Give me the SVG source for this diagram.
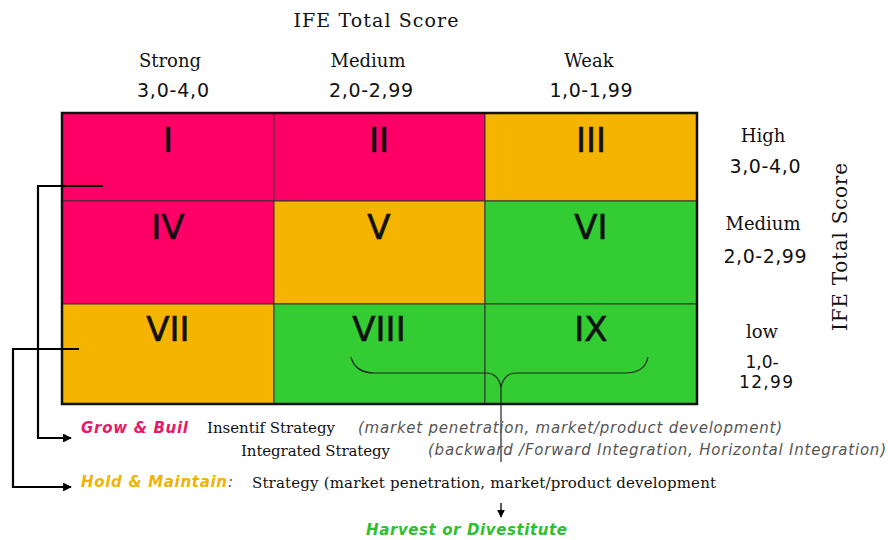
<svg xmlns="http://www.w3.org/2000/svg" width="888" height="540" viewBox="0 0 888 540">
  <style>
    .serif { font-family: "DejaVu Serif", "Liberation Serif", serif; fill: #111; }
    .sans { font-family: "DejaVu Sans", "Liberation Sans", sans-serif; fill: #111; }
    .roman { font-family: "DejaVu Sans", "Liberation Sans", sans-serif; font-size: 34px; fill: #111; text-anchor: middle; stroke: #111; stroke-width: 0.6; }
    .pink { fill: #FF0066; }
    .orange { fill: #F5B400; }
    .green { fill: #33CC33; }
    .cell { stroke: #333; stroke-width: 1; }
    .line { fill: none; stroke: #000; stroke-width: 2.2; }
    .thin { fill: none; stroke: #222; stroke-width: 1.2; }
    .note { font-family: "DejaVu Sans", "Liberation Sans", sans-serif; font-style: italic; fill: #555; font-size: 15px; }
    .tag { font-family: "DejaVu Sans", "Liberation Sans", sans-serif; font-style: italic; font-weight: bold; font-size: 15px; }
  </style>
  <defs>
    <marker id="arrow" viewBox="0 0 10 10" refX="9" refY="5" markerWidth="4" markerHeight="4" orient="auto" markerUnits="strokeWidth">
      <path d="M0,0 L10,5 L0,10 z" fill="#000"/>
    </marker>
    <marker id="arrowSmall" viewBox="0 0 10 10" refX="9" refY="5" markerWidth="6" markerHeight="6" orient="auto" markerUnits="strokeWidth">
      <path d="M0,0 L10,5 L0,10 z" fill="#000"/>
    </marker>
  </defs>

  <rect width="888" height="540" fill="#fff"/>

  <!-- Axis headings -->
  <g id="axis-top">
    <text class="serif" x="376" y="27" font-size="19" text-anchor="middle" textLength="165">IFE Total Score</text>
    <text class="serif" x="170" y="67" font-size="18" text-anchor="middle">Strong</text>
    <text class="serif" x="368" y="67" font-size="18" text-anchor="middle">Medium</text>
    <text class="serif" x="589" y="67" font-size="18" text-anchor="middle">Weak</text>
    <text class="sans" x="173" y="97" font-size="19" text-anchor="middle" textLength="72">3,0-4,0</text>
    <text class="sans" x="371" y="97" font-size="19" text-anchor="middle" textLength="84">2,0-2,99</text>
    <text class="sans" x="591" y="97" font-size="19" text-anchor="middle" textLength="83">1,0-1,99</text>
  </g>

  <g id="axis-right">
    <text class="serif" x="763" y="142" font-size="18" text-anchor="middle">High</text>
    <text class="sans" x="765" y="173" font-size="19" text-anchor="middle" textLength="71">3,0-4,0</text>
    <text class="serif" x="763" y="230" font-size="18" text-anchor="middle">Medium</text>
    <text class="sans" x="765" y="263" font-size="19" text-anchor="middle" textLength="83">2,0-2,99</text>
    <text class="serif" x="762" y="338" font-size="18" text-anchor="middle">low</text>
    <text class="sans" x="762" y="368" font-size="17" text-anchor="middle">1,0-</text>
    <text class="sans" x="766" y="388" font-size="17" text-anchor="middle" textLength="54">12,99</text>
    <text class="serif" font-size="20" text-anchor="middle" textLength="168" transform="translate(847 247) rotate(-90)">IFE Total Score</text>
  </g>

  <!-- Matrix cells -->
  <g id="cell-I"><rect class="cell pink" x="62" y="113" width="212" height="88"/><text class="roman" x="168" y="152">I</text></g>
  <g id="cell-II"><rect class="cell pink" x="274" y="113" width="211" height="88"/><text class="roman" x="379" y="152">II</text></g>
  <g id="cell-III"><rect class="cell orange" x="485" y="113" width="212" height="88"/><text class="roman" x="591" y="152">III</text></g>
  <g id="cell-IV"><rect class="cell pink" x="62" y="201" width="212" height="103"/><text class="roman" x="168" y="239">IV</text></g>
  <g id="cell-V"><rect class="cell orange" x="274" y="201" width="211" height="103"/><text class="roman" x="379" y="239">V</text></g>
  <g id="cell-VI"><rect class="cell green" x="485" y="201" width="212" height="103"/><text class="roman" x="591" y="239">VI</text></g>
  <g id="cell-VII"><rect class="cell orange" x="62" y="304" width="212" height="100"/><text class="roman" x="168" y="341">VII</text></g>
  <g id="cell-VIII"><rect class="cell green" x="274" y="304" width="211" height="100"/><text class="roman" x="379" y="341">VIII</text></g>
  <g id="cell-IX"><rect class="cell green" x="485" y="304" width="212" height="100"/><text class="roman" x="591" y="341">IX</text></g>
  <rect x="62" y="113" width="635" height="291" fill="none" stroke="#111" stroke-width="2.5"/>

  <!-- Connectors -->
  <g id="connectors">
    <path class="line" d="M103,186 H38 V438 H71" marker-end="url(#arrow)"/>
    <path class="line" d="M79,349 H13 V487 H71" marker-end="url(#arrow)"/>
    <path class="thin" d="M351,357 Q355,373 375,373 H486 Q498,373 501,387 Q504,373 516,373 H625 Q645,373 648,357"/>
    <path class="thin" d="M501,387 V462"/>
    <path fill="none" stroke="#000" stroke-width="1.3" d="M501,503 V517" marker-end="url(#arrowSmall)"/>
  </g>

  <!-- Strategy legend -->
  <g id="legend-grow">
    <text class="tag" x="81" y="433" fill="#E8176A" textLength="107">Grow &amp; Buil</text>
    <text class="serif" x="207" y="433" font-size="15" textLength="128">Insentif Strategy</text>
    <text class="note" x="358" y="433" textLength="424">(market penetration, market/product development)</text>
    <text class="serif" x="241" y="456" font-size="15" textLength="149">Integrated Strategy</text>
    <text class="note" x="428" y="455" textLength="458">(backward /Forward Integration, Horizontal Integration)</text>
  </g>
  <g id="legend-hold">
    <text class="tag" x="81" y="487" fill="#F0B400" textLength="146">Hold &amp; Maintain</text>
    <text class="note" x="228" y="487" fill="#F0B400">:</text>
    <text class="serif" x="252" y="488" font-size="15" textLength="464">Strategy (market penetration, market/product development</text>
  </g>
  <g id="legend-harvest">
    <text class="tag" x="366" y="535" fill="#2DC02D" textLength="201">Harvest or Divestitute</text>
  </g>
</svg>
